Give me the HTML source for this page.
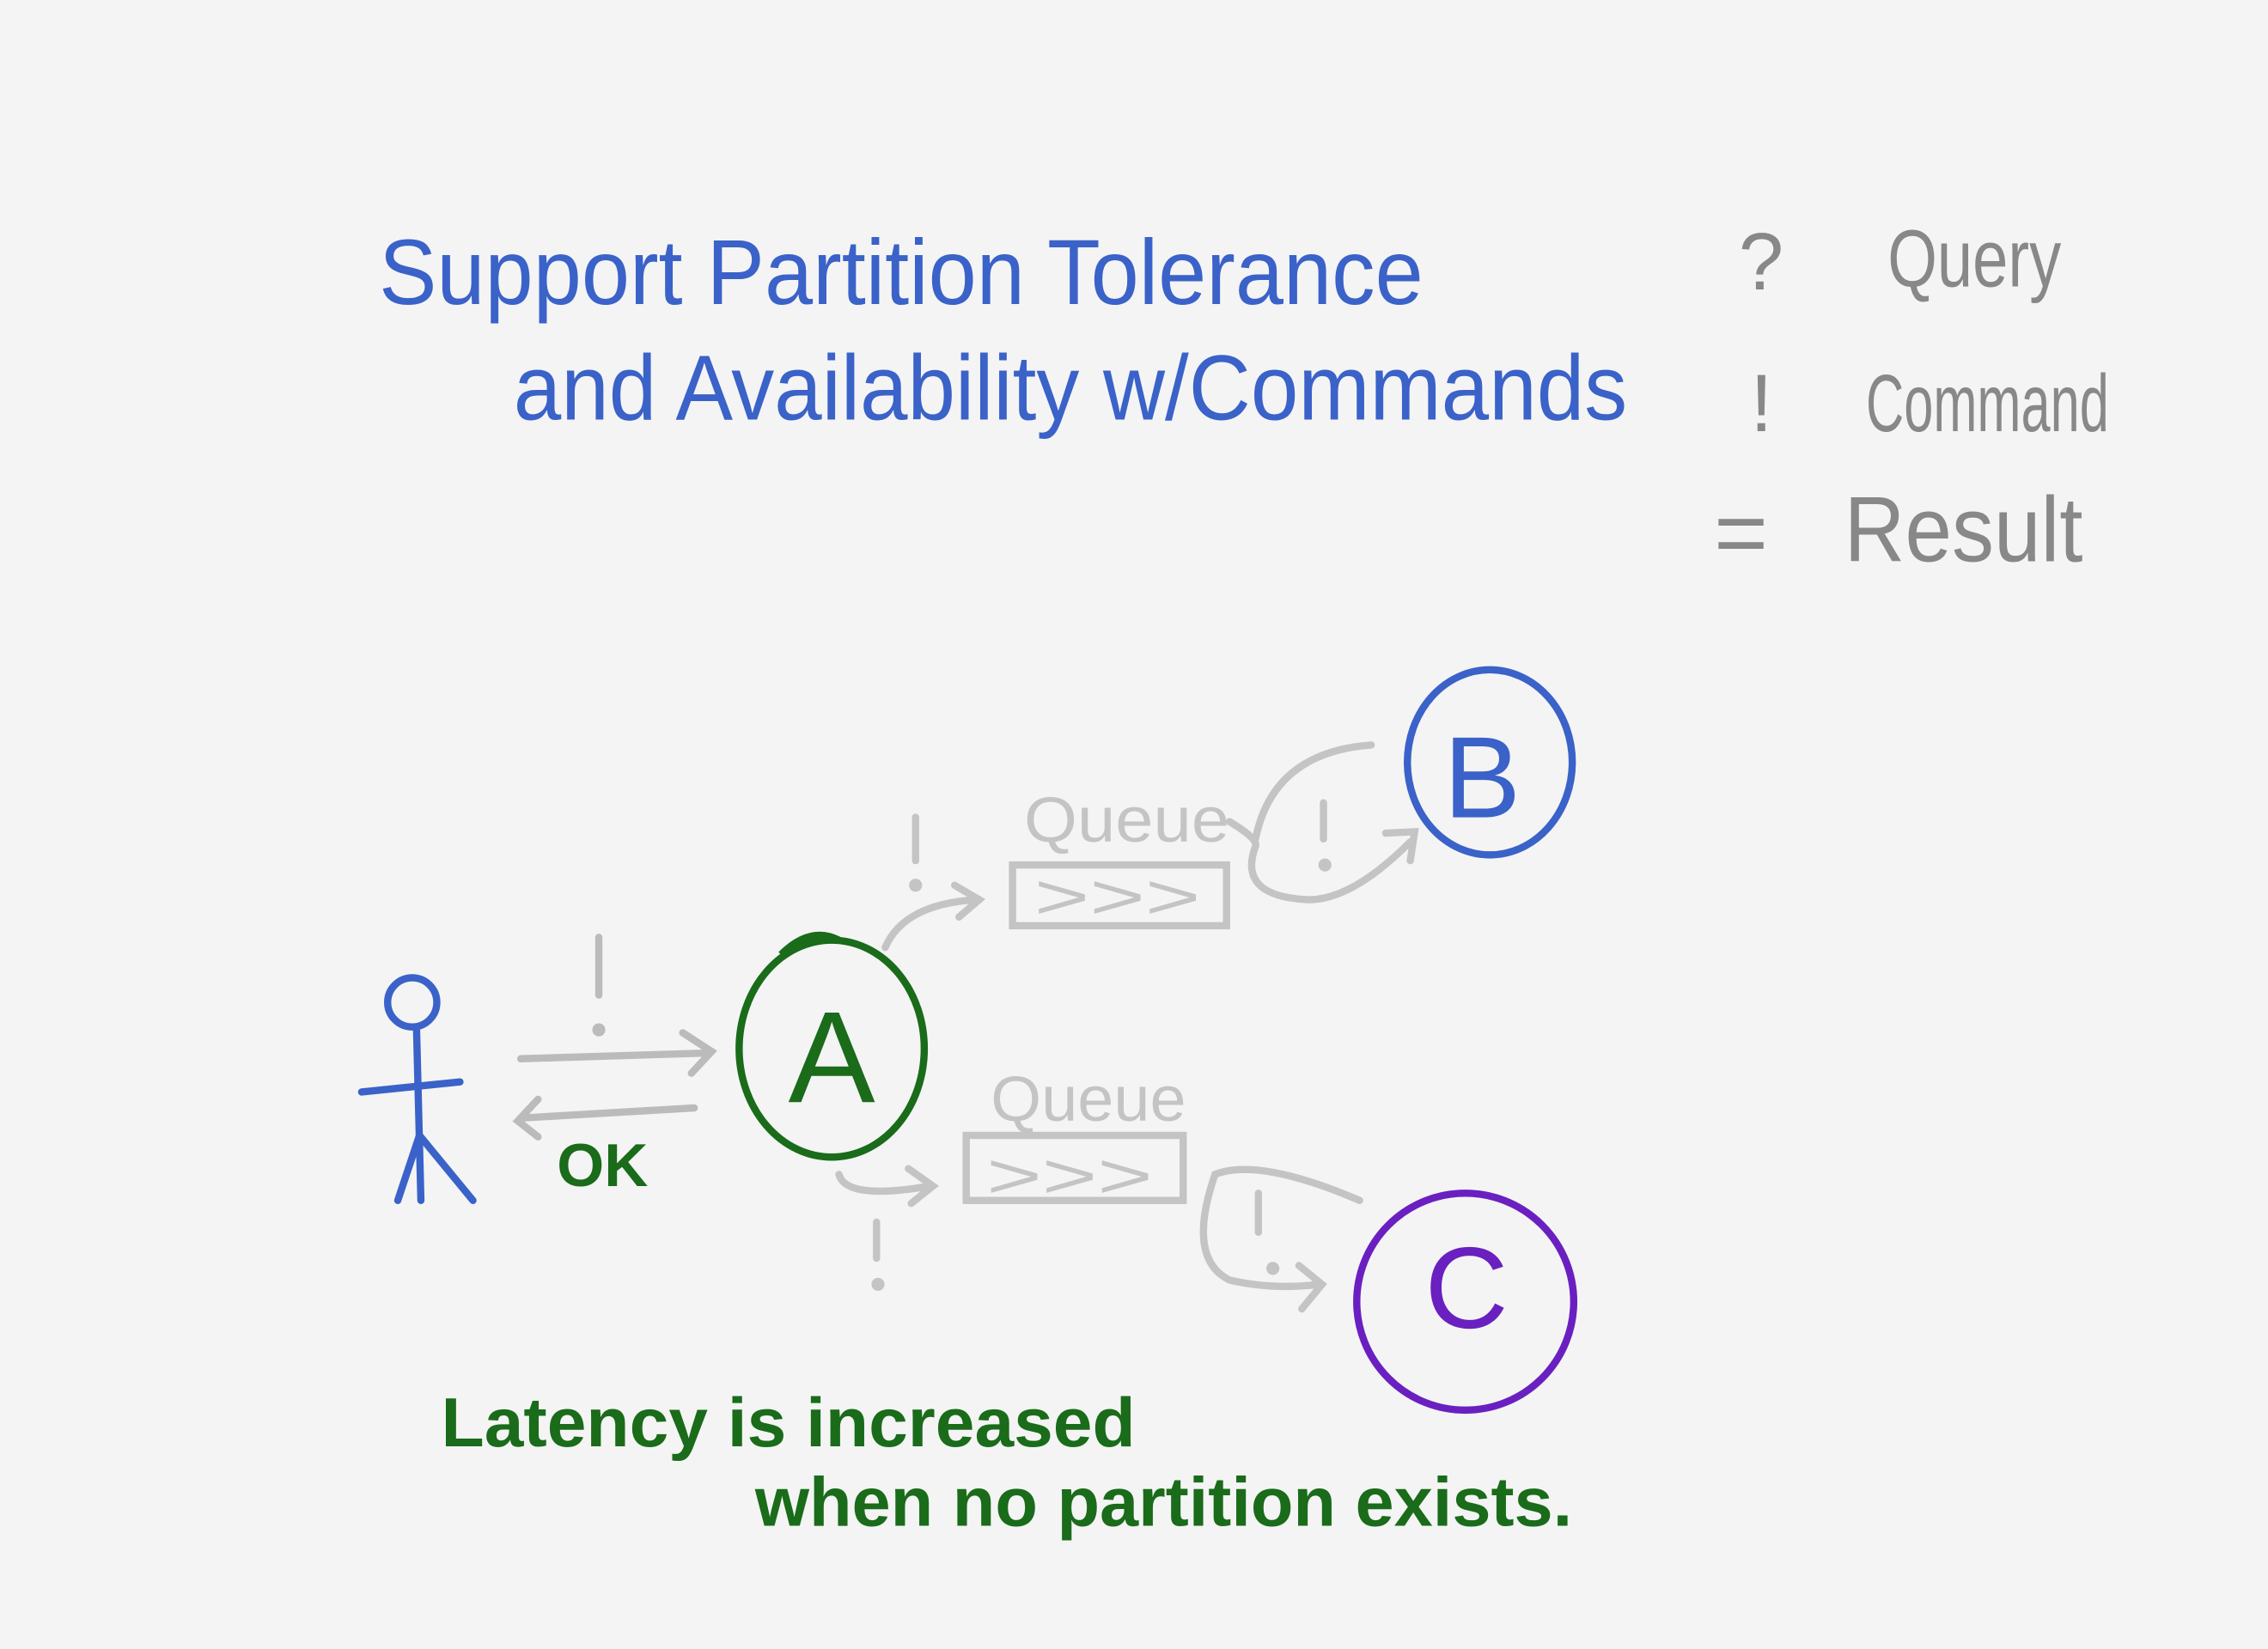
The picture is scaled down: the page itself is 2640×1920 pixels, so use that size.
<!DOCTYPE html>
<html><head><meta charset="utf-8"><style>
html,body{margin:0;padding:0;background:#f4f4f4;}
svg{display:block;}
text{font-family:"Liberation Sans",sans-serif;}
</style></head><body>
<svg width="2640" height="1920" viewBox="0 0 1568 1140" xmlns="http://www.w3.org/2000/svg">
<rect width="1568" height="1140" fill="#f4f4f4"/>
<g fill="#3a62c8" font-size="64">
<text x="262" y="210" textLength="722" lengthAdjust="spacingAndGlyphs">Support Partition Tolerance</text>
<text x="355" y="290" textLength="770" lengthAdjust="spacingAndGlyphs">and Availability w/Commands</text>
</g>
<g fill="#888" font-size="56">
<text x="1202" y="200">?</text>
<text x="1305" y="198" textLength="120" lengthAdjust="spacingAndGlyphs">Query</text>
<text x="1210" y="298">!</text>
<text x="1290" y="298" textLength="168" lengthAdjust="spacingAndGlyphs">Command</text>
<text x="1185" y="390" font-size="64">=</text>
<text x="1275" y="388" textLength="165" lengthAdjust="spacingAndGlyphs" font-size="64">Result</text>
</g>
<!-- stick figure -->
<g stroke="#3a62c8" stroke-width="5" fill="none" stroke-linecap="round">
<circle cx="285" cy="693" r="17"/>
<path d="M288 712 L291 830"/>
<path d="M250 755 L318 748"/>
<path d="M275 830 L290 785 L327 830"/>
</g>
<!-- arrows to A -->
<g stroke="#bbb" stroke-width="5" fill="none" stroke-linecap="round">
<path d="M414 648 L414 688"/><circle cx="414" cy="712" r="2" fill="#bbb"/>
<path d="M360 732 L490 728 M472 714 L492 727 L478 742"/>
<path d="M480 766 L360 773 M372 760 L358 775 L372 786"/>
</g>
<text x="385" y="820" fill="#1a6b1a" font-size="42" font-weight="bold">OK</text>
<!-- nodes -->
<g fill="none" stroke-width="5">
<ellipse cx="575" cy="725" rx="64" ry="75" stroke="#1a6b1a"/>
<path d="M540 660 Q560 640 580 650" stroke="#1a6b1a"/>
<ellipse cx="1030" cy="527" rx="57" ry="64" stroke="#3a62c8"/>
<ellipse cx="1013" cy="900" rx="75" ry="75" stroke="#6a20c0"/>
</g>
<text x="545" y="762" fill="#1a6b1a" font-size="90">A</text>
<text x="998" y="565" fill="#3a62c8" font-size="80">B</text>
<text x="985" y="918" fill="#6a20c0" font-size="80">C</text>
<!-- queues -->
<g fill="#c4c4c4" font-size="44">
<text x="708" y="582" textLength="142" lengthAdjust="spacingAndGlyphs">Queue</text>
<text x="685" y="775" textLength="135" lengthAdjust="spacingAndGlyphs">Queue</text>
<text x="715" y="635" textLength="115" lengthAdjust="spacingAndGlyphs">&gt;&gt;&gt;</text>
<text x="682" y="828" textLength="115" lengthAdjust="spacingAndGlyphs">&gt;&gt;&gt;</text>
</g>
<g stroke="#c4c4c4" stroke-width="5" fill="none" stroke-linecap="round">
<rect x="700" y="598" width="148" height="42"/>
<rect x="668" y="785" width="150" height="45"/>
<path d="M612 655 Q625 625 675 622 M660 612 L677 622 L663 634"/>
<path d="M633 565 L633 595"/><circle cx="633" cy="612" r="2" fill="#c4c4c4"/>
<path d="M850 568 Q870 580 868 585 Q855 620 905 622 Q935 622 975 582 M958 576 L978 575 L975 595"/>
<path d="M948 515 Q880 520 868 580"/>
<path d="M915 555 L915 580"/><circle cx="916" cy="598" r="2" fill="#c4c4c4"/>
<path d="M580 812 Q585 830 643 820 M628 808 L645 820 L630 832"/>
<path d="M606 845 L606 870"/><circle cx="607" cy="888" r="2" fill="#c4c4c4"/>
<path d="M940 830 Q870 800 840 812 Q820 870 850 885 Q880 892 912 888 M898 875 L914 888 L900 905"/>
<path d="M870 825 L870 852"/><circle cx="880" cy="877" r="2" fill="#c4c4c4"/>
</g>
<g fill="#1a6b1a" font-size="48" font-weight="bold">
<text x="305" y="1000" textLength="480" lengthAdjust="spacingAndGlyphs">Latency is increased</text>
<text x="522" y="1055" textLength="565" lengthAdjust="spacingAndGlyphs">when no partition exists.</text>
</g>
</svg>
</body></html>
